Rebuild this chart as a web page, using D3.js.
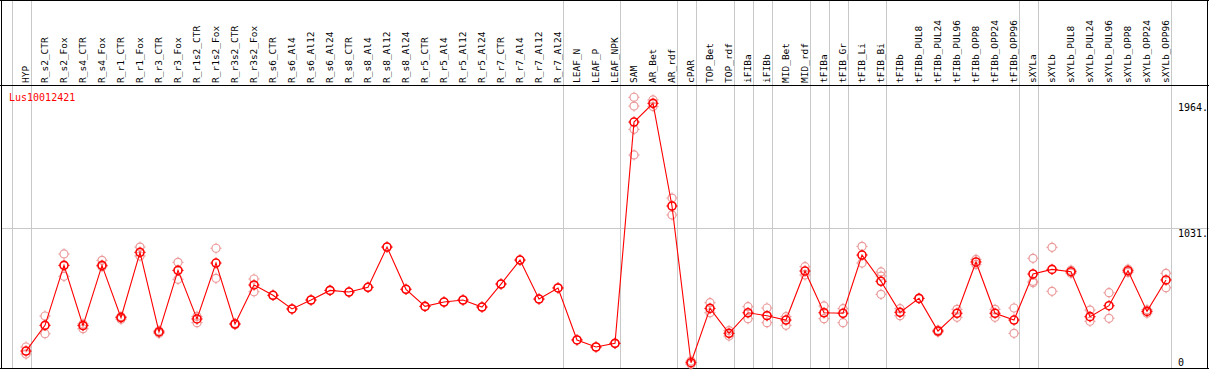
<!DOCTYPE html>
<html><head><meta charset="utf-8">
<script src="https://cdn.jsdelivr.net/npm/d3@7/dist/d3.min.js"></script>
<style>
html,body{margin:0;padding:0;background:#fff;}
svg{display:block;}
text{font-family:"DejaVu Sans Mono",monospace;font-size:10px;}
text.hdr{font-size:9.5px;}
</style></head>
<body>
<svg id="c" width="1209" height="370"></svg>
<script>
const categories = ["HYP","R_s2_CTR","R_s2_Fox","R_s4_CTR","R_s4_Fox","R_r1_CTR","R_r1_Fox","R_r3_CTR","R_r3_Fox","R_r1s2_CTR","R_r1s2_Fox","R_r3s2_CTR","R_r3s2_Fox","R_s6_CTR","R_s6_Al4","R_s6_Al12","R_s6_Al24","R_s8_CTR","R_s8_Al4","R_s8_Al12","R_s8_Al24","R_r5_CTR","R_r5_Al4","R_r5_Al12","R_r5_Al24","R_r7_CTR","R_r7_Al4","R_r7_Al12","R_r7_Al24","LEAF_N","LEAF_P","LEAF_NPK","SAM","AR_Bet","AR_rdf","cPAR","TOP_Bet","TOP_rdf","iFIBa","iFIBb","MID_Bet","MID_rdf","tFIBa","tFIB_Gr","tFIB_Li","tFIB_Bi","tFIBb","tFIBb_PUL8","tFIBb_PUL24","tFIBb_PUL96","tFIBb_OPP8","tFIBb_OPP24","tFIBb_OPP96","sXYLa","sXYLb","sXYLb_PUL8","sXYLb_PUL24","sXYLb_PUL96","sXYLb_OPP8","sXYLb_OPP24","sXYLb_OPP96"];

const means = [125,315,758,313,758,372,854,266,721,362,775,325,613,537,436,502,573,561,596,893,581,455,487,502,450,620,797,509,591,207,155,182,1816,1954,1196,39,440,256,408,386,354,716,408,404,834,640,411,514,273,404,783,404,354,694,728,711,379,460,718,418,650];

const replicates = [
 [155,103],[384,253],[842,677],[325,290],[795,748],[360,380],[893,827],[275,256],[780,655],[381,335],
 [884,662],[330,320],[657,563],[537],[436],[502],[573],[561],[596],[893],
 [581],[455],[487],[502],[450],[620],[797],[509],[591],[207],
 [155],[182],[1999,1934,1762,1573],[1979,1930],[1255,1130],[51,27],[482,408],[276,236],[453,364],[443,335],
 [379,315],[748,687],[458,364],[438,335],[898,775],[709,679,544],[438,386],[514],[280,266],[433,374],
 [802,765],[433,374],[443,256],[810,630,640],[891,566],[722,700],[428,345],[556,367],[730,706],[430,405],
 [699,593]
];

const separatorsAfter = [-1,0,28,31,34,35,37,38,39,41,42,43,45,52,53,60];
const yTicks = [0,1031,1964];
const geneLabel = "Lus10012421";

const W = 1209, H = 370;
const svg = d3.select("#c");
const headerY = 85, bottomY = 368, leftX = 1.5, rightX = 1207.5;

const x = d3.scalePoint().domain(categories).range([26,1166]);
const step = x.step();
const y = d3.scaleLinear().domain([0,1964]).range([368,102]);

// separators
const sepX = i => (i < 0 ? x(categories[0]) - step : x(categories[i])) + 4.7;
svg.append("g").selectAll("line").data(separatorsAfter).join("line")
  .attr("x1", d => Math.round(sepX(d)) + 0.5).attr("x2", d => Math.round(sepX(d)) + 0.5)
  .attr("y1", 0).attr("y2", bottomY)
  .attr("stroke", "#c8c8c8").attr("stroke-width", 1);

// horizontal grid at middle tick
svg.append("line")
  .attr("x1", leftX).attr("x2", W).attr("y1", Math.round(y(1031)) + 0.5).attr("y2", Math.round(y(1031)) + 0.5)
  .attr("stroke", "#c8c8c8");

// frame
svg.append("line").attr("x1",0).attr("x2",W).attr("y1",0.5).attr("y2",0.5).attr("stroke","#000");
svg.append("line").attr("x1",0).attr("x2",W).attr("y1",headerY+0.5).attr("y2",headerY+0.5).attr("stroke","#000");
svg.append("line").attr("x1",0).attr("x2",W).attr("y1",bottomY+0.5).attr("y2",bottomY+0.5).attr("stroke","#000");
svg.append("line").attr("x1",leftX).attr("x2",leftX).attr("y1",0).attr("y2",bottomY+1).attr("stroke","#000");
svg.append("line").attr("x1",rightX).attr("x2",rightX).attr("y1",0).attr("y2",bottomY+1).attr("stroke","#000");

// header labels
svg.append("g").selectAll("text").data(categories).join("text")
  .attr("class", "hdr")
  .attr("transform", d => `translate(${x(d)+2.5},83) rotate(-90)`)
  .attr("fill", "#000")
  .text(d => d);

// y tick labels
svg.append("g").selectAll("text").data(yTicks).join("text")
  .attr("x", 1178)
  .attr("y", d => Math.min(y(d) + 9, 366))
  .attr("fill", "#000")
  .text(d => d === 0 ? "0" : d + ".");

// gene label
svg.append("text").attr("x", 9).attr("y", 101).attr("fill", "#ff0000").text(geneLabel);

function marker(g, cx, cy, color, sw) {
  g.append("circle").attr("cx", cx).attr("cy", cy).attr("r", 4)
    .attr("fill", "none").attr("stroke", color).attr("stroke-width", sw);
  const t = 5.6;
  [[0,-1],[0,1],[-1,0],[1,0]].forEach(([dx,dy]) => {
    g.append("line")
      .attr("x1", cx + dx*4).attr("y1", cy + dy*4)
      .attr("x2", cx + dx*t).attr("y2", cy + dy*t)
      .attr("stroke", color).attr("stroke-width", 1);
  });
}

// replicates
const repG = svg.append("g");
categories.forEach((c, i) => {
  replicates[i].forEach(v => marker(repG, x(c), y(v), "#eb9a9a", 1.2));
});

// mean line
svg.append("path")
  .datum(means)
  .attr("d", d3.line().x((d,i) => x(categories[i])).y(d => y(d)))
  .attr("fill", "none").attr("stroke", "#ff0000").attr("stroke-width", 1.1);

// mean markers
const meanG = svg.append("g");
categories.forEach((c, i) => marker(meanG, x(c), y(means[i]), "#ff0000", 1.6));
</script>
</body></html>
